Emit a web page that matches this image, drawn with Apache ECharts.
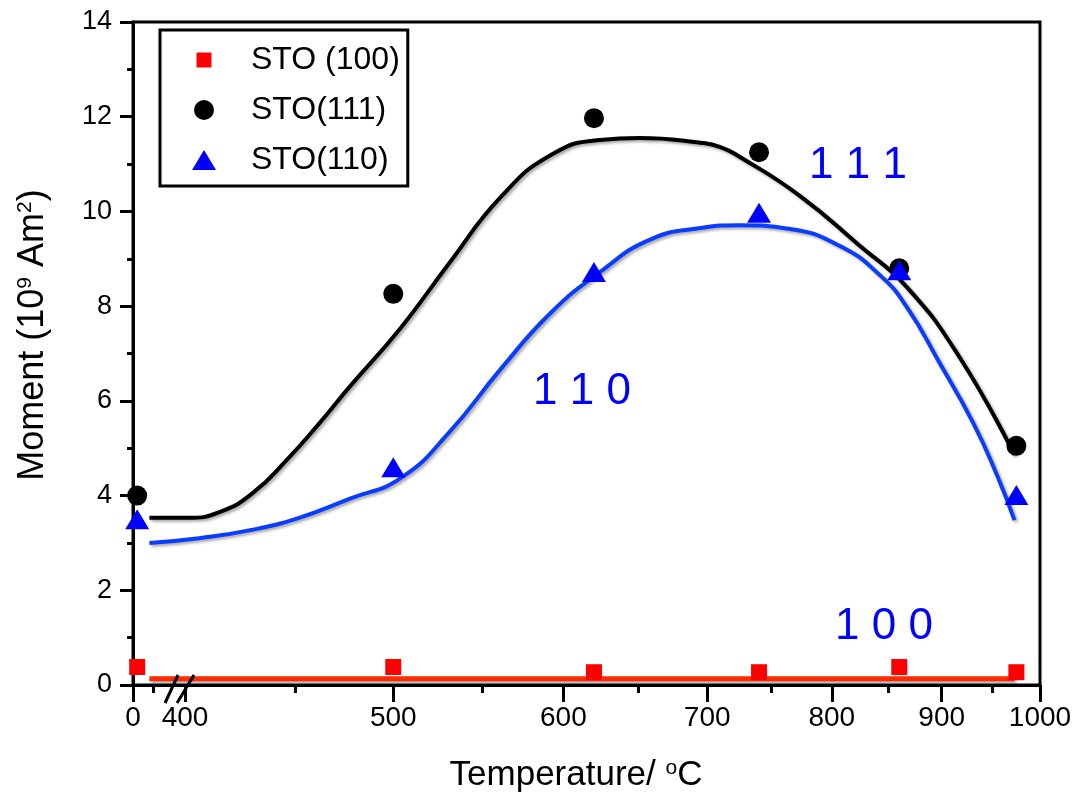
<!DOCTYPE html>
<html>
<head>
<meta charset="utf-8">
<script src="https://cdn.jsdelivr.net/npm/echarts@6/dist/echarts.min.js"></script>
<style>html,body{margin:0;padding:0;background:#fff}#c{width:1074px;height:797px}</style>
</head>
<body>
<div id="c"></div>
<script>
// ---------- data ----------
const AXIS_MIN_T = 378.3;   // left end of the broken log axis (labelled "0")
const ZERO_T = 380;         // where the as-grown ("0") samples sit on the broken axis
const BREAK_T = 397;        // position of the axis-break mark
const temps = [0, 500, 620, 740, 860, 975];
const sto100 = [0.38, 0.38, 0.27, 0.27, 0.38, 0.27];
const sto111 = [4.0, 8.26, 11.97, 11.25, 8.8, 5.05];
const sto110 = [3.5, 4.6, 8.72, 9.97, 8.76, 4.01];

const fit111T = [385, 401, 415, 430, 446, 462, 477, 504, 531, 561, 592, 624, 651, 695, 710, 725, 773, 824, 867, 918, 973];
const fit111V = [3.53, 3.53, 3.65, 4.05, 4.75, 5.53, 6.29, 7.54, 8.91, 10.30, 11.19, 11.51, 11.55, 11.45, 11.36, 11.15, 10.33, 9.28, 8.40, 6.90, 4.86];
const fit110T = [385, 406, 429, 452, 477, 504, 531, 561, 592, 624, 658, 695, 725, 765, 807, 842, 867, 898, 931, 955, 973];
const fit110V = [3.00, 3.10, 3.27, 3.53, 3.93, 4.37, 5.34, 6.67, 7.86, 8.72, 9.40, 9.65, 9.71, 9.63, 9.27, 8.66, 7.98, 6.80, 5.53, 4.43, 3.48];
const fit100T = [385, 973];
const fit100V = [0.13, 0.13];

const majorTicks = [AXIS_MIN_T, 400, 500, 600, 700, 800, 900, 1000];
const minorTicks = [386.5, 450, 550, 650, 750, 850, 950];

// ---------- helpers ----------
const FONT = 'Liberation Sans';
const plotT = t => (t === 0 ? ZERO_T : t);
const pairs = (xs, ys) => xs.map((x, i) => [x, ys[i]]);
const pts = vals => temps.map((t, i) => [plotT(t), vals[i]]);
const shadow = {shadowColor: 'rgba(0,0,0,0.35)', shadowBlur: 3, shadowOffsetX: 2, shadowOffsetY: 2};

const chart = echarts.init(document.getElementById('c'), null, {renderer: 'canvas'});
chart.setOption({
  animation: false,
  backgroundColor: '#fff',
  grid: {left: 133, right: 34, top: 22, bottom: 112, show: true, borderColor: '#000', borderWidth: 3, containLabel: false, outerBoundsMode: 'none'},
  xAxis: [{
    type: 'log', min: AXIS_MIN_T, max: 1000, gridIndex: 0, position: 'bottom',
    axisLine: {show: true, onZero: false, lineStyle: {color: '#000', width: 3}},
    axisTick: {show: true, inside: false, length: 17, customValues: majorTicks, lineStyle: {color: '#000', width: 3}},
    axisLabel: {show: true, customValues: majorTicks, margin: 19, fontSize: 28, fontFamily: FONT, color: '#000',
      formatter: v => (v < 390 ? '0' : String(Math.round(v)))},
    splitLine: {show: false}, minorTick: {show: false}
  }, {
    type: 'log', min: AXIS_MIN_T, max: 1000, gridIndex: 0, position: 'bottom',
    axisLine: {show: false},
    axisTick: {show: true, inside: false, length: 8, customValues: minorTicks, lineStyle: {color: '#000', width: 3}},
    axisLabel: {show: false},
    splitLine: {show: false}
  }],
  yAxis: {
    type: 'value', min: 0, max: 14, interval: 2,
    axisLine: {show: true, onZero: false, lineStyle: {color: '#000', width: 3}},
    axisTick: {show: true, inside: false, length: 13, lineStyle: {color: '#000', width: 3}},
    minorTick: {show: true, splitNumber: 2, length: 6, lineStyle: {color: '#000', width: 3}},
    axisLabel: {margin: 21, fontSize: 27, fontFamily: FONT, color: '#000', formatter: v => String(v)},
    splitLine: {show: false}
  },
  legend: {
    orient: 'vertical', left: 160, top: 30,
    padding: [14, 8, 10, 32], itemWidth: 24, itemHeight: 20, itemGap: 18,
    borderColor: '#000', borderWidth: 3, backgroundColor: '#fff',
    textStyle: {fontSize: 32, fontFamily: FONT, color: '#000', padding: [0, 0, 0, 30], lineHeight: 20},
    data: [
      {name: 'STO (100)', icon: 'path://M0,0M24,20M4.5,2.5L19.5,2.5L19.5,17.5L4.5,17.5Z'},
      {name: 'STO(111)', icon: 'circle'},
      {name: 'STO(110)', icon: 'triangle'}
    ]
  },
  series: [
    {name: 'fit100', type: 'line', data: pairs(fit100T, fit100V), showSymbol: false, z: 2,
      lineStyle: Object.assign({color: '#ff2a00', width: 5}, shadow)},
    {name: 'fit111', type: 'line', data: pairs(fit111T, fit111V), showSymbol: false, smooth: 0.5, z: 2,
      lineStyle: Object.assign({color: '#000', width: 4}, shadow)},
    {name: 'fit110', type: 'line', data: pairs(fit110T, fit110V), showSymbol: false, smooth: 0.5, z: 2,
      lineStyle: Object.assign({color: '#0a3cff', width: 4}, shadow)},
    {name: 'STO (100)', type: 'scatter', data: pts(sto100), symbol: 'rect', symbolSize: 16, clip: false, z: 5,
      itemStyle: {color: '#ff0000', opacity: 1}},
    {name: 'STO(111)', type: 'scatter', data: pts(sto111), symbol: 'circle', symbolSize: 20, clip: false, z: 5,
      itemStyle: {color: '#000', opacity: 1}},
    {name: 'STO(110)', type: 'scatter', data: pts(sto110), symbol: 'triangle', symbolSize: [24, 20], clip: false, z: 6,
      itemStyle: {color: '#0000ff', opacity: 1}},
    {name: 'break', type: 'custom', clip: false, z: 10, data: [[BREAK_T, 0]],
      renderItem: (params, api) => {
        const p = api.coord([api.value(0), api.value(1)]);
        const ls = {stroke: '#000', lineWidth: 3, fill: null};
        return {type: 'group', children: [
          {type: 'line', shape: {x1: p[0] - 13, y1: p[1] + 18, x2: p[0], y2: p[1] - 10}, style: ls},
          {type: 'line', shape: {x1: p[0] - 1, y1: p[1] + 18, x2: p[0] + 16, y2: p[1] - 10}, style: ls}
        ]};
      }}
  ],
  graphic: [
    {type: 'text', x: 858, y: 166, style: {text: '1 1 1', fontSize: 44, fontFamily: FONT, fill: '#0000ff', align: 'center', verticalAlign: 'middle'}},
    {type: 'text', x: 582, y: 392, style: {text: '1 1 0', fontSize: 44, fontFamily: FONT, fill: '#0000ff', align: 'center', verticalAlign: 'middle'}},
    {type: 'text', x: 884, y: 627, style: {text: '1 0 0', fontSize: 44, fontFamily: FONT, fill: '#0000ff', align: 'center', verticalAlign: 'middle'}},
    {type: 'text', x: 576, y: 775, style: {text: 'Temperature/ {sup|o}C', fontSize: 35, fontFamily: FONT, fill: '#000', align: 'center', verticalAlign: 'middle',
      rich: {sup: {fontSize: 21, fontFamily: FONT, fill: '#000', verticalAlign: 'top'}}}},
    {type: 'text', x: 33, y: 335, rotation: Math.PI / 2, style: {text: 'Moment (10{sup|9} Am{sup|2})', fontSize: 36, fontFamily: FONT, fill: '#000', align: 'center', verticalAlign: 'middle',
      rich: {sup: {fontSize: 21, fontFamily: FONT, fill: '#000', verticalAlign: 'top'}}}}
  ]
});
</script>
</body>
</html>
